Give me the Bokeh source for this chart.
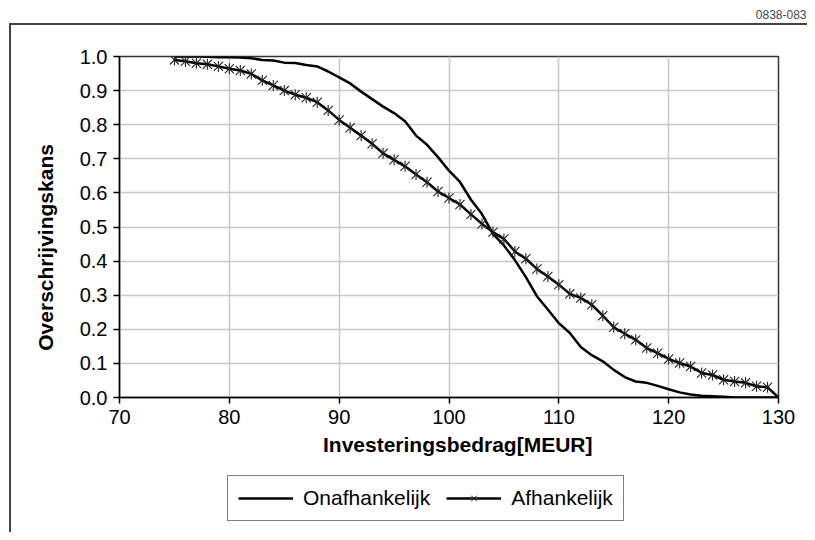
import math
from bokeh.plotting import figure
from bokeh.layouts import column
from bokeh.models import (Range1d, FixedTicker, PrintfTickFormatter, Legend, LegendItem,
                          ColumnDataSource, Title)
from bokeh.embed import file_html
from bokeh.resources import INLINE

# ---------------- data ----------------
investering = [75, 76, 77, 78, 79, 80, 81, 82, 83, 84,
               85, 86, 87, 88, 89, 90, 91, 92, 93, 94,
               95, 96, 97, 98, 99, 100, 101, 102, 103, 104,
               105, 106, 107, 108, 109, 110, 111, 112, 113, 114,
               115, 116, 117, 118, 119, 120, 121, 122, 123, 124,
               125, 126, 127, 128, 129, 130]
onafhankelijk = [1.000, 1.000, 1.000, 0.999, 0.998, 0.998, 0.997, 0.995, 0.990, 0.988,
                 0.982, 0.981, 0.975, 0.971, 0.956, 0.939, 0.921, 0.897, 0.875, 0.853,
                 0.834, 0.810, 0.768, 0.741, 0.705, 0.665, 0.632, 0.580, 0.538, 0.480,
                 0.446, 0.403, 0.353, 0.297, 0.258, 0.218, 0.189, 0.148, 0.124, 0.106,
                 0.081, 0.060, 0.047, 0.043, 0.034, 0.024, 0.015, 0.009, 0.005, 0.004,
                 0.002, 0.000, 0.000, 0.000, 0.000, 0.000]
afhankelijk = [0.990, 0.986, 0.980, 0.977, 0.971, 0.964, 0.959, 0.949, 0.930, 0.915,
               0.900, 0.888, 0.879, 0.866, 0.842, 0.814, 0.791, 0.768, 0.744, 0.716,
               0.697, 0.678, 0.654, 0.631, 0.604, 0.585, 0.566, 0.537, 0.509, 0.485,
               0.465, 0.428, 0.407, 0.377, 0.355, 0.331, 0.304, 0.292, 0.272, 0.240,
               0.206, 0.187, 0.169, 0.145, 0.130, 0.113, 0.101, 0.091, 0.072, 0.066,
               0.052, 0.047, 0.043, 0.033, 0.030, 0.000]
x_ticks = [70, 80, 90, 100, 110, 120, 130]
y_ticks = [0.0, 0.1, 0.2, 0.3, 0.4, 0.5, 0.6, 0.7, 0.8, 0.9, 1.0]
x_title = "Investeringsbedrag[MEUR]"
y_title = "Overschrijvingskans"
series_names = ["Onafhankelijk", "Afhankelijk"]
doc_code = "0838-083"

FONT = "Liberation Sans"
NBSP = "\u00a0"
W = 807
BORDER = "#454545"

# CSS backgrounds drawing the outer chart-area border (left edge, and top edge)
css_left_top = {"background": (f"linear-gradient({BORDER}, {BORDER}) 9px 0px / 2px 1000px no-repeat, "
                               f"linear-gradient({BORDER}, {BORDER}) 9px 0px / 1000px 2px no-repeat, #ffffff")}
css_left = {"background": f"linear-gradient({BORDER}, {BORDER}) 9px 0px / 2px 1000px no-repeat, #ffffff"}


def bare_figure(height, styles, top=0):
    f = figure(width=W, height=height, output_backend="svg", toolbar_location=None,
               x_axis_location=None, y_axis_location=None,
               x_range=Range1d(0, 1), y_range=Range1d(0, 1),
               min_border_left=0, min_border_right=0, min_border_top=top, min_border_bottom=0,
               styles=styles)
    f.grid.grid_line_color = None
    f.outline_line_color = None
    f.background_fill_color = None
    f.border_fill_color = None
    return f


# ---------- top strip: document code ----------
p_top = bare_figure(23, {"background": "#ffffff"}, top=18)
p_top.add_layout(Title(text=doc_code, align="right", offset=-28, standoff=0,
                       vertical_align="bottom", text_font=FONT, text_font_size="12px",
                       text_font_style="normal", text_color="#444444"), "above")

# ---------- main chart ----------
p = figure(width=W, height=447, output_backend="svg", toolbar_location=None,
           x_range=Range1d(70, 130), y_range=Range1d(0, 1),
           min_border_left=119, min_border_right=29, min_border_top=33, min_border_bottom=73,
           styles=css_left_top)

p.background_fill_color = "white"
p.border_fill_color = None
p.outline_line_color = "#333333"
p.outline_line_width = 1.5

for ax in (p.xaxis[0], p.yaxis[0]):
    ax.axis_line_color = "black"
    ax.axis_line_width = 1.5
    ax.major_tick_line_color = "black"
    ax.major_tick_line_width = 1.5
    ax.major_tick_in = 0
    ax.major_tick_out = 6
    ax.minor_tick_line_color = None
    ax.major_label_text_font = FONT
    ax.major_label_text_font_size = "20px"
    ax.major_label_text_color = "black"
    ax.axis_label_text_font = FONT
    ax.axis_label_text_font_style = "bold"
    ax.axis_label_text_font_size = "21px"
    ax.axis_label_text_color = "black"

p.xaxis[0].ticker = FixedTicker(ticks=x_ticks)
p.yaxis[0].ticker = FixedTicker(ticks=y_ticks)
p.yaxis[0].formatter = PrintfTickFormatter(format="%.1f")
p.xaxis[0].major_label_standoff = 6
p.yaxis[0].major_label_standoff = 6
p.xaxis[0].axis_label = NBSP * 3 + x_title
p.xaxis[0].axis_label_standoff = 6
p.yaxis[0].axis_label = y_title + NBSP * 7
p.yaxis[0].axis_label_standoff = 20

for g in (p.xgrid[0], p.ygrid[0]):
    g.grid_line_color = "#c8c8c8"
    g.grid_line_width = 1.5

src = ColumnDataSource(dict(x=investering, on=onafhankelijk, af=afhankelijk))
p.line("x", "on", source=src, line_color="black", line_width=2.5, line_join="round")
p.line("x", "af", source=src, line_color="black", line_width=2.5, line_join="round")
p.scatter("x", "af", source=src, marker="x", size=13, line_color="#222222", line_width=1.1)
p.scatter("x", "af", source=src, marker="dash", angle=math.pi / 2, size=11,
          line_color="#222222", line_width=1.1)

# ---------- legend strip ----------
p_leg = bare_figure(62, css_left)
p_leg.y_range = Range1d(10, 11)  # the series themselves stay out of view here
l_on = p_leg.line("x", "on", source=src, line_color="black", line_width=2.5)
l_af = p_leg.line("x", "af", source=src, line_color="black", line_width=2.5)
l_afx = p_leg.scatter("x", "af", source=src, marker="x", size=11, line_color="#222222", line_width=1)
l_afd = p_leg.scatter("x", "af", source=src, marker="dash", angle=math.pi / 2, size=9,
                      line_color="#222222", line_width=1)
legend = Legend(items=[LegendItem(label=series_names[0], renderers=[l_on]),
                       LegendItem(label=series_names[1], renderers=[l_af, l_afx, l_afd])],
                orientation="horizontal", location=(108, 11), margin=0,
                padding=10, spacing=16, glyph_width=55, glyph_height=20,
                label_standoff=10, label_text_font=FONT, label_text_font_size="21px",
                label_text_color="black", border_line_color="black", border_line_width=1,
                background_fill_color="white", background_fill_alpha=1)
p_leg.add_layout(legend, "center")

layout = column(p_top, p, p_leg, spacing=0)

open("out.html", "w").write(file_html(layout, INLINE))
